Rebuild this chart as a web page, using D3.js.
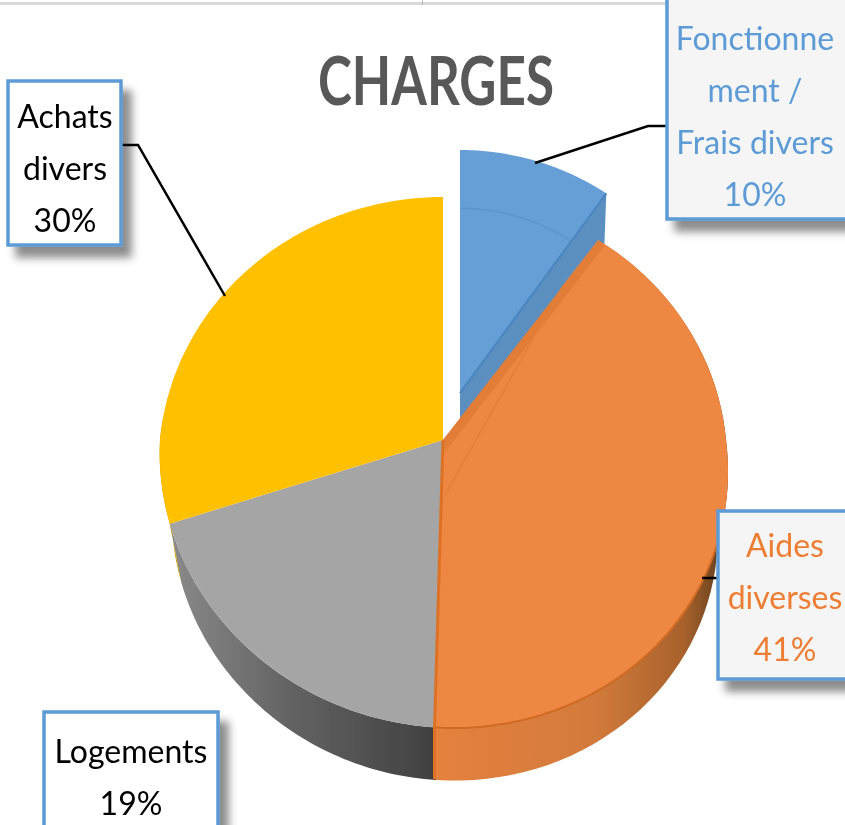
<!DOCTYPE html>
<html>

<head>
  <meta charset="utf-8">
  <title>charges</title>
  <style>
    * {
      padding: 0;
      margin: 0;
    }

    body {
      background: #fff;
      overflow: hidden;
    }

    text {
      font-family: Lato, "Open Sans", sans-serif;
    }
  </style>
</head>

<body>
  <svg id="svg"></svg>
  <script src="https://cdnjs.cloudflare.com/ajax/libs/d3/7.8.5/d3.min.js"></script>
  <script>
    const categories = ['Fonctionnement / Frais divers', 'Aides diverses', 'Logements', 'Achats divers'];
    const values = [10, 41, 19, 30];
    const sliceColors = ['#659fd6', '#ed8742', '#a5a5a5', '#ffc000'];
    const labelLines = [['Fonctionne', 'ment /', 'Frais divers'], ['Aides', 'diverses'], ['Logements'], ['Achats', 'divers']];
    const labelColors = ['#5b9bd5', '#ed7d31', '#000', '#000'];

    const width = 845, height = 825;
    const svg = d3.select('#svg').attr('width', width).attr('height', height);

    const defs = svg.append('defs');
    const shadow = defs.append('filter').attr('id', 'shadow')
      .attr('x', '-20%').attr('y', '-20%').attr('width', '150%').attr('height', '150%');
    shadow.append('feDropShadow').attr('dx', 9).attr('dy', 11).attr('stdDeviation', 4)
      .attr('flood-color', '#000').attr('flood-opacity', 0.45);
    defs.append('filter').attr('id', 'soft').append('feGaussianBlur').attr('stdDeviation', 0.6);

    function hGradient(id, stops) {
      const g = defs.append('linearGradient').attr('id', id);
      stops.forEach(s => g.append('stop').attr('offset', s[0]).attr('stop-color', s[1]));
    }
    hGradient('sideOrange', [[0, '#e5813e'], [0.55, '#d27a3b'], [0.85, '#a8622c'], [1, '#5c3a1c']]);
    hGradient('sideGray', [[0, '#8a8a8a'], [0.45, '#636363'], [1, '#404040']]);

    // perspective projection of the pie disc: angle 0 = 12 o'clock, clockwise
    const tilt = 0.0847, lean = 0.038;
    function projector(cx, cy, rx, ry, sk = 0) {
      return (a, k = 1) => {
        const d = 1 + tilt * Math.cos(a);
        const y = -k * ry * Math.cos(a) / d;
        return [cx + k * rx * Math.sin(a) / d + sk * Math.max(y, 0), cy + y];
      };
    }
    const face = projector(443, 440, 283, 263.6, lean);
    const base = projector(444, 502, 272, 255, lean);
    const blueFace = projector(460, 393, 266, 263.6);

    const line = d3.line();
    const arcPts = (p, a0, a1, k) => d3.range(0, 61).map(i => p(a0 + (a1 - a0) * i / 60, k));

    const arcs = d3.pie().sort(null).startAngle(0).endAngle(2 * Math.PI)(values);
    const color = d3.scaleOrdinal().domain(categories).range(sliceColors);

    const chart = svg.append('g').attr('filter', 'url(#soft)');

    // top rule left over from the screenshot
    chart.append('rect').attr('x', 0).attr('y', 2).attr('width', width).attr('height', 3).attr('fill', '#d9d9d9');
    chart.append('rect').attr('x', 422).attr('y', 0).attr('width', 1).attr('height', 5).attr('fill', '#bbb');

    // exploded slice first, the others sit on top of its cut face
    const blue = arcs[0];
    const tip = blueFace(blue.endAngle);
    chart.append('path')
      .attr('d', line([tip, [tip[0] - 2, tip[1] + 53], [460, 420], [460, 393]]) + 'Z')
      .attr('fill', '#5a8fc0');
    chart.append('path')
      .attr('d', line([[460, 393]].concat(arcPts(blueFace, blue.startAngle, blue.endAngle))) + 'Z')
      .attr('fill', color(categories[0]));
    chart.append('path')
      .attr('d', line(arcPts(blueFace, blue.startAngle, blue.endAngle, 0.76)))
      .attr('fill', 'none').attr('stroke', '#5b95cc').attr('stroke-width', 1.5);
    chart.append('path')
      .attr('d', line([[460, 393], tip]))
      .attr('fill', 'none').attr('stroke', '#4a86bf').attr('stroke-width', 2);

    // side walls of the front slices
    const sideFill = ['none', 'url(#sideOrange)', 'url(#sideGray)', '#c99a08'];
    arcs.slice(1).forEach((d, i) => {
      const last = i === 2 ? d.startAngle + 0.4 : d.endAngle;
      const top = arcPts(face, d.startAngle, last);
      const bottom = arcPts(base, d.startAngle, last).reverse();
      chart.append('path').attr('d', line(top.concat(bottom)) + 'Z').attr('fill', sideFill[i + 1]);
    });

    // top faces
    arcs.slice(1).forEach((d, i) => {
      chart.append('path')
        .attr('d', line([[443, 440]].concat(arcPts(face, d.startAngle, d.endAngle))) + 'Z')
        .attr('fill', color(categories[i + 1]));
    });

    // bevel on the orange slice
    const orange = arcs[1];
    const inner = face(orange.startAngle, 0.76);
    const start = face(orange.startAngle);
    const end = face(orange.endAngle);
    chart.append('path')
      .attr('d', line([[443, 440], start, [start[0] + 6, start[1] + 5], [445, 452]]) + 'Z')
      .attr('fill', '#dd7a36').attr('fill-opacity', 0.75);
    chart.append('path')
      .attr('d', line([start, inner, [445, 495]]))
      .attr('fill', 'none').attr('stroke', '#e27f39').attr('stroke-width', 1.5);
    chart.append('path')
      .attr('d', line(arcPts(face, orange.startAngle + 1.25, orange.endAngle)))
      .attr('fill', 'none').attr('stroke', '#cf6a24').attr('stroke-width', 2);
    chart.append('path')
      .attr('d', line([[443, 440], end, [end[0], end[1] + 52]]))
      .attr('fill', 'none').attr('stroke', '#dd7225').attr('stroke-width', 3);

    // leader lines
    const leaders = chart.append('g').attr('fill', 'none').attr('stroke', '#000').attr('stroke-width', 2.5);
    leaders.append('path').attr('d', line([[668, 126], [648, 126], [535, 163]]));
    leaders.append('path').attr('d', line([[717, 578], [702, 578]]));
    leaders.append('path').attr('d', line([[122, 145], [138, 145], [225, 296]]));

    // title
    chart.append('text')
      .attr('x', 436).attr('y', 105)
      .attr('text-anchor', 'middle')
      .attr('font-size', 66)
      .attr('font-weight', 700)
      .attr('fill', '#595959')
      .attr('textLength', 236).attr('lengthAdjust', 'spacingAndGlyphs')
      .text('CHARGES');

    // data labels
    const boxes = [
      { x: 667, y: -6, w: 190, h: 225, fill: '#f5f5f5', y0: 50, cx: 755 },
      { x: 718, y: 511, w: 140, h: 168, fill: '#f5f5f5', y0: 557, cx: 785 },
      { x: 44, y: 712, w: 174, h: 130, fill: '#fff', y0: 763, cx: 131 },
      { x: 8, y: 81, w: 113, h: 164, fill: '#fff', y0: 128, cx: 65 }
    ];
    boxes.forEach((b, i) => {
      const g = chart.append('g');
      g.append('rect')
        .attr('x', b.x).attr('y', b.y).attr('width', b.w).attr('height', b.h)
        .attr('fill', b.fill).attr('stroke', '#5b9bd5').attr('stroke-width', 3.5)
        .attr('filter', 'url(#shadow)');
      const rows = labelLines[i].concat(d3.format('.0%')(values[i] / d3.sum(values)));
      g.selectAll('text').data(rows).enter().append('text')
        .attr('x', b.cx)
        .attr('y', (d, j) => b.y0 + j * 52)
        .attr('text-anchor', 'middle')
        .attr('font-size', 32)
        .attr('fill', labelColors[i])
        .text(d => d);
    });
  </script>

</body>

</html>
